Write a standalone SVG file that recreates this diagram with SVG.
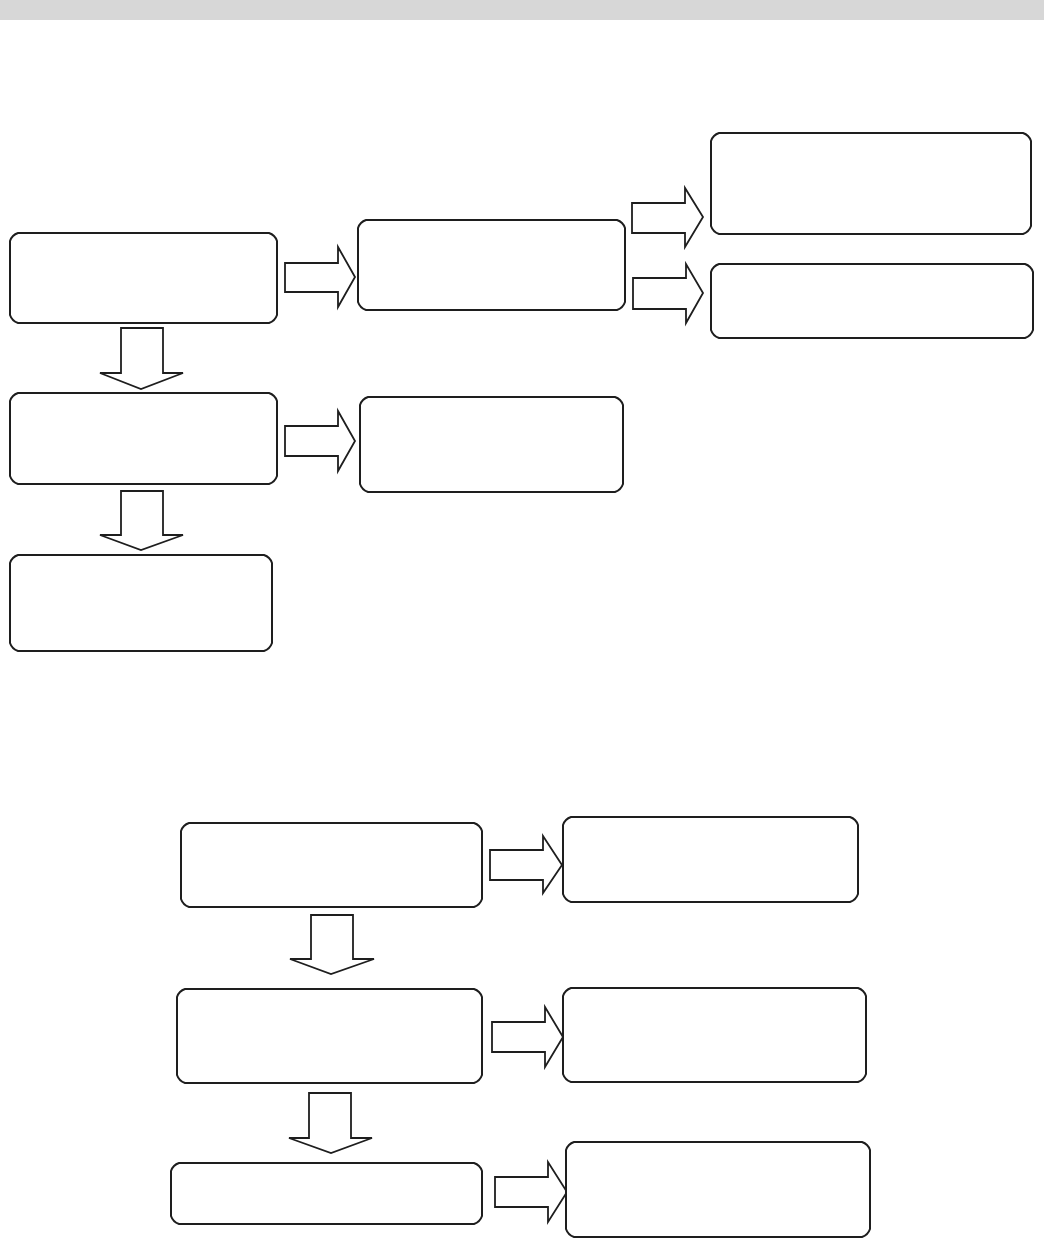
<svg xmlns="http://www.w3.org/2000/svg" width="1044" height="1239" viewBox="0 0 1044 1239">
  <style>
    .box { fill: #ffffff; stroke: #1e1e1e; stroke-width: 2; stroke-linejoin: round; }
    .arrow { fill: #ffffff; stroke: #1e1e1e; stroke-width: 1.8; stroke-linejoin: miter; }
    .band { fill: #d7d7d7; }
  </style>
  <rect class="band" x="0" y="0" width="1044" height="20"/>
  <rect x="0" y="20" width="1044" height="1219" fill="#ffffff"/>

  <g id="connectors">
    <path class="arrow" d="M285,263 H338 V247 L355,277 L338,307 V292 H285 Z"/>
    <path class="arrow" d="M632,203 H685 V188 L703,217 L685,247 V233 H632 Z"/>
    <path class="arrow" d="M633,278 H686 V264 L703,293 L686,323 V309 H633 Z"/>
    <path class="arrow" d="M285,426 H338 V411 L355,441 L338,471 V456 H285 Z"/>
    <path class="arrow" d="M121,328 H163 V373 H183 L141,389 L100,373 H121 Z"/>
    <path class="arrow" d="M121,491 H163 V535 H183 L141,550 L100,535 H121 Z"/>
    <path class="arrow" d="M490,850 H543 V836 L562,865 L543,893 V880 H490 Z"/>
    <path class="arrow" d="M492,1022 H545 V1007 L563,1037 L545,1067 V1052 H492 Z"/>
    <path class="arrow" d="M495,1177 H548 V1162 L567,1192 L548,1222 V1207 H495 Z"/>
    <path class="arrow" d="M311,915 H353 V959 H374 L331,974 L290,959 H311 Z"/>
    <path class="arrow" d="M309,1093 H351 V1138 H372 L331,1153 L289,1138 H309 Z"/>
  </g>

  <g id="nodeA"><path class="box" d="M18,233 H269 Q275,235 277,241 V315 Q275,321 269,323 H18 Q12,321 10,315 V241 Q12,235 18,233 Z"/></g>
  <g id="nodeB"><path class="box" d="M366,220 H617 Q623,222 625,228 V302 Q623,308 617,310 H366 Q360,308 358,302 V228 Q360,222 366,220 Z"/></g>
  <g id="nodeC"><path class="box" d="M719,133 H1023 Q1029,135 1031,141 V226 Q1029,232 1023,234 H719 Q713,232 711,226 V141 Q713,135 719,133 Z"/></g>
  <g id="nodeD"><path class="box" d="M719,264 H1025 Q1031,266 1033,272 V330 Q1031,336 1025,338 H719 Q713,336 711,330 V272 Q713,266 719,264 Z"/></g>
  <g id="nodeE"><path class="box" d="M18,393 H269 Q275,395 277,401 V476 Q275,482 269,484 H18 Q12,482 10,476 V401 Q12,395 18,393 Z"/></g>
  <g id="nodeF"><path class="box" d="M18,555 H264 Q270,557 272,563 V643 Q270,649 264,651 H18 Q12,649 10,643 V563 Q12,557 18,555 Z"/></g>
  <g id="nodeG"><path class="box" d="M368,397 H615 Q621,399 623,405 V484 Q621,490 615,492 H368 Q362,490 360,484 V405 Q362,399 368,397 Z"/></g>
  <g id="nodeH"><path class="box" d="M189,823 H474 Q480,825 482,831 V899 Q480,905 474,907 H189 Q183,905 181,899 V831 Q183,825 189,823 Z"/></g>
  <g id="nodeI"><path class="box" d="M571,817 H850 Q856,819 858,825 V894 Q856,900 850,902 H571 Q565,900 563,894 V825 Q565,819 571,817 Z"/></g>
  <g id="nodeJ"><path class="box" d="M185,989 H474 Q480,991 482,997 V1075 Q480,1081 474,1083 H185 Q179,1081 177,1075 V997 Q179,991 185,989 Z"/></g>
  <g id="nodeK"><path class="box" d="M571,988 H858 Q864,990 866,996 V1074 Q864,1080 858,1082 H571 Q565,1080 563,1074 V996 Q565,990 571,988 Z"/></g>
  <g id="nodeL"><path class="box" d="M179,1163 H474 Q480,1165 482,1171 V1216 Q480,1222 474,1224 H179 Q173,1222 171,1216 V1171 Q173,1165 179,1163 Z"/></g>
  <g id="nodeM"><path class="box" d="M574,1142 H862 Q868,1144 870,1150 V1229 Q868,1235 862,1237 H574 Q568,1235 566,1229 V1150 Q568,1144 574,1142 Z"/></g>
</svg>
